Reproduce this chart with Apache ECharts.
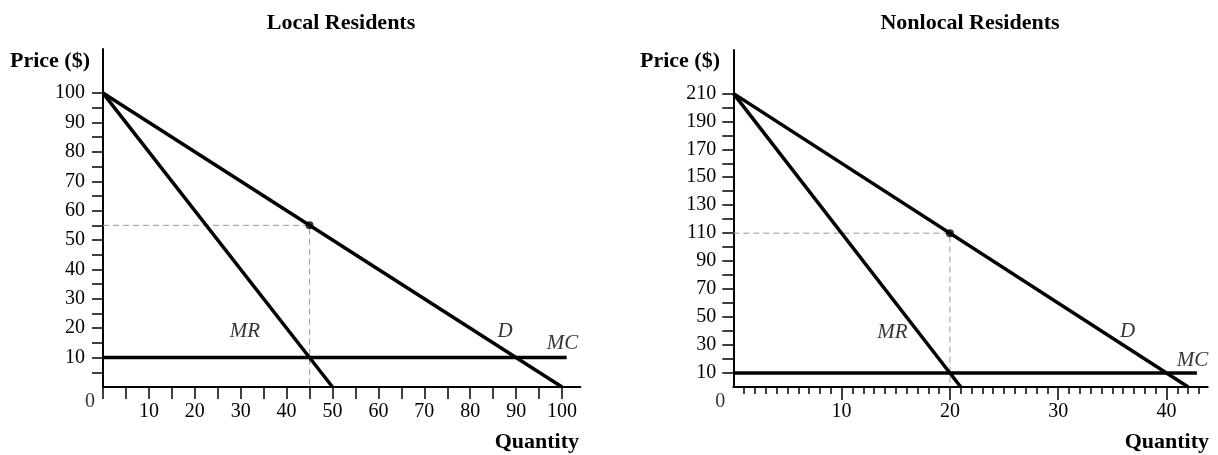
<!DOCTYPE html>
<html>
<head>
<meta charset="utf-8">
<script src="https://cdn.jsdelivr.net/npm/echarts@6/dist/echarts.min.js"></script>
<style>
html,body{margin:0;padding:0;background:#fff;}
#chart{width:1218px;height:455px;}
</style>
</head>
<body>
<div id="chart"></div>
<script>
// ---- Data: Local Residents ----
const localDemand = [[0, 100], [100, 0]];
const localMR = [[0, 100], [50, 0]];
const localMC = [[0, 10], [101, 10]];
const localOptimum = [45, 55];
const localXTicks = [0, 5, 10, 15, 20, 25, 30, 35, 40, 45, 50, 55, 60, 65, 70, 75, 80, 85, 90, 95, 100];
const localXLabels = [10, 20, 30, 40, 50, 60, 70, 80, 90, 100];
const localYTicks = [5, 10, 15, 20, 25, 30, 35, 40, 45, 50, 55, 60, 65, 70, 75, 80, 85, 90, 95, 100];
const localYLabels = [10, 20, 30, 40, 50, 60, 70, 80, 90, 100];

// ---- Data: Nonlocal Residents ----
const nonlocalDemand = [[0, 210], [42, 0]];
const nonlocalMR = [[0, 210], [21, 0]];
const nonlocalMC = [[0, 10], [42.8, 10]];
const nonlocalOptimum = [20, 110];
const nonlocalXMajor = [10, 20, 30, 40];
const nonlocalXMinor = [1, 2, 3, 4, 5, 6, 7, 8, 9, 11, 12, 13, 14, 15, 16, 17, 18, 19, 21, 22, 23, 24, 25, 26, 27, 28, 29, 31, 32, 33, 34, 35, 36, 37, 38, 39, 41, 42, 43];
const nonlocalYTicks = [10, 20, 30, 40, 50, 60, 70, 80, 90, 100, 110, 120, 130, 140, 150, 160, 170, 180, 190, 200, 210];
const nonlocalYLabels = [10, 30, 50, 70, 90, 110, 130, 150, 170, 190, 210];

// curve labels
const localCurveLabels = [
  { name: 'MR', value: [30.9, 18.8] },
  { name: 'D', value: [87.6, 18.8] },
  { name: 'MC', value: [100.1, 14.9] }
];
const nonlocalCurveLabels = [
  { name: 'MR', value: [14.7, 39.3] },
  { name: 'D', value: [36.4, 39.5] },
  { name: 'MC', value: [42.4, 19.3] }
];

const FONT = "'Liberation Serif','Times New Roman',serif";
const chart = echarts.init(document.getElementById('chart'), null, { renderer: 'canvas' });

function xAxisCfg(grid, max, ticks, labels, tickLen, showLine) {
  return {
    type: 'value', gridIndex: grid, min: 0, max: max, position: 'bottom',
    axisLine: { show: showLine, onZero: false, lineStyle: { color: '#000', width: 2 } },
    axisTick: { show: true, customValues: ticks, length: tickLen, inside: false, lineStyle: { color: '#000', width: 1.5 } },
    axisLabel: labels ? { show: true, customValues: labels, margin: 15, fontSize: 20, color: '#000', fontFamily: FONT } : { show: false },
    splitLine: { show: false }
  };
}
function yAxisCfg(grid, max, ticks, labels, margin) {
  return {
    type: 'value', gridIndex: grid, min: 0, max: max,
    axisLine: { show: true, onZero: false, lineStyle: { color: '#000', width: 2 } },
    axisTick: { show: true, customValues: ticks, length: 11, inside: false, lineStyle: { color: '#000', width: 1.5 } },
    axisLabel: { show: true, customValues: labels, margin: margin, fontSize: 20, color: '#000', fontFamily: FONT },
    splitLine: { show: false }
  };
}
function curve(data, xi, yi) {
  return { type: 'line', xAxisIndex: xi, yAxisIndex: yi, data: data, showSymbol: false, symbol: 'none',
    lineStyle: { color: '#000', width: 3.5 }, silent: true, z: 5 };
}
function guide(opt, xi, yi) {
  return { type: 'line', xAxisIndex: xi, yAxisIndex: yi,
    data: [[0, opt[1]], [opt[0], opt[1]], [opt[0], 0]], showSymbol: false, symbol: 'none',
    lineStyle: { color: '#999', width: 1, type: [6, 4] }, silent: true, z: 3 };
}
function dot(opt, xi, yi) {
  return { type: 'scatter', xAxisIndex: xi, yAxisIndex: yi, data: [opt], symbolSize: 8,
    itemStyle: { color: '#000' }, z: 6, silent: true };
}
function labels(items, xi, yi) {
  const data = items.map(d => ({ name: d.name, value: d.value }));
  data.push({ name: '0', value: [0, 0], label: { fontStyle: 'normal', fontSize: 20, offset: [-13, 15] } });
  return { type: 'scatter', xAxisIndex: xi, yAxisIndex: yi, data: data, symbolSize: 1, clip: false,
    itemStyle: { color: 'rgba(0,0,0,0)' }, silent: true, z: 7,
    label: { show: true, position: 'inside', formatter: '{b}', color: '#000', fontFamily: FONT,
      fontStyle: 'italic', fontSize: 21 } };
}

const option = {
  animation: false,
  backgroundColor: '#fff',
  grid: [
    { left: 103, right: 637.6, top: 49, bottom: 68, containLabel: false },
    { left: 733.3, right: 10.3, top: 50, bottom: 68, containLabel: false }
  ],
  xAxis: [
    xAxisCfg(0, 104, localXTicks, localXLabels, 12, true),
    xAxisCfg(1, 43.8, nonlocalXMajor, nonlocalXMajor, 13, true),
    xAxisCfg(1, 43.8, nonlocalXMinor, null, 7, false)
  ],
  yAxis: [
    yAxisCfg(0, 115, localYTicks, localYLabels, 18),
    yAxisCfg(1, 241, nonlocalYTicks, nonlocalYLabels, 17)
  ],
  series: [
    guide(localOptimum, 0, 0),
    curve(localDemand, 0, 0),
    curve(localMR, 0, 0),
    curve(localMC, 0, 0),
    dot(localOptimum, 0, 0),
    labels(localCurveLabels, 0, 0),
    guide(nonlocalOptimum, 1, 1),
    curve(nonlocalDemand, 1, 1),
    curve(nonlocalMR, 1, 1),
    curve(nonlocalMC, 1, 1),
    dot(nonlocalOptimum, 1, 1),
    labels(nonlocalCurveLabels, 1, 1)
  ],
  graphic: [
    { type: 'text', x: 341, y: 23, style: { text: 'Local Residents', fill: '#000', font: 'bold 22px ' + FONT, align: 'center', verticalAlign: 'middle' } },
    { type: 'text', x: 970, y: 23, style: { text: 'Nonlocal Residents', fill: '#000', font: 'bold 22px ' + FONT, align: 'center', verticalAlign: 'middle' } },
    { type: 'text', x: 90, y: 61, style: { text: 'Price ($)', fill: '#000', font: 'bold 22px ' + FONT, align: 'right', verticalAlign: 'middle' } },
    { type: 'text', x: 720, y: 61, style: { text: 'Price ($)', fill: '#000', font: 'bold 22px ' + FONT, align: 'right', verticalAlign: 'middle' } },
    { type: 'text', x: 579, y: 442, style: { text: 'Quantity', fill: '#000', font: 'bold 22px ' + FONT, align: 'right', verticalAlign: 'middle' } },
    { type: 'text', x: 1209, y: 442, style: { text: 'Quantity', fill: '#000', font: 'bold 22px ' + FONT, align: 'right', verticalAlign: 'middle' } }
  ]
};
chart.setOption(option);
</script>
</body>
</html>
